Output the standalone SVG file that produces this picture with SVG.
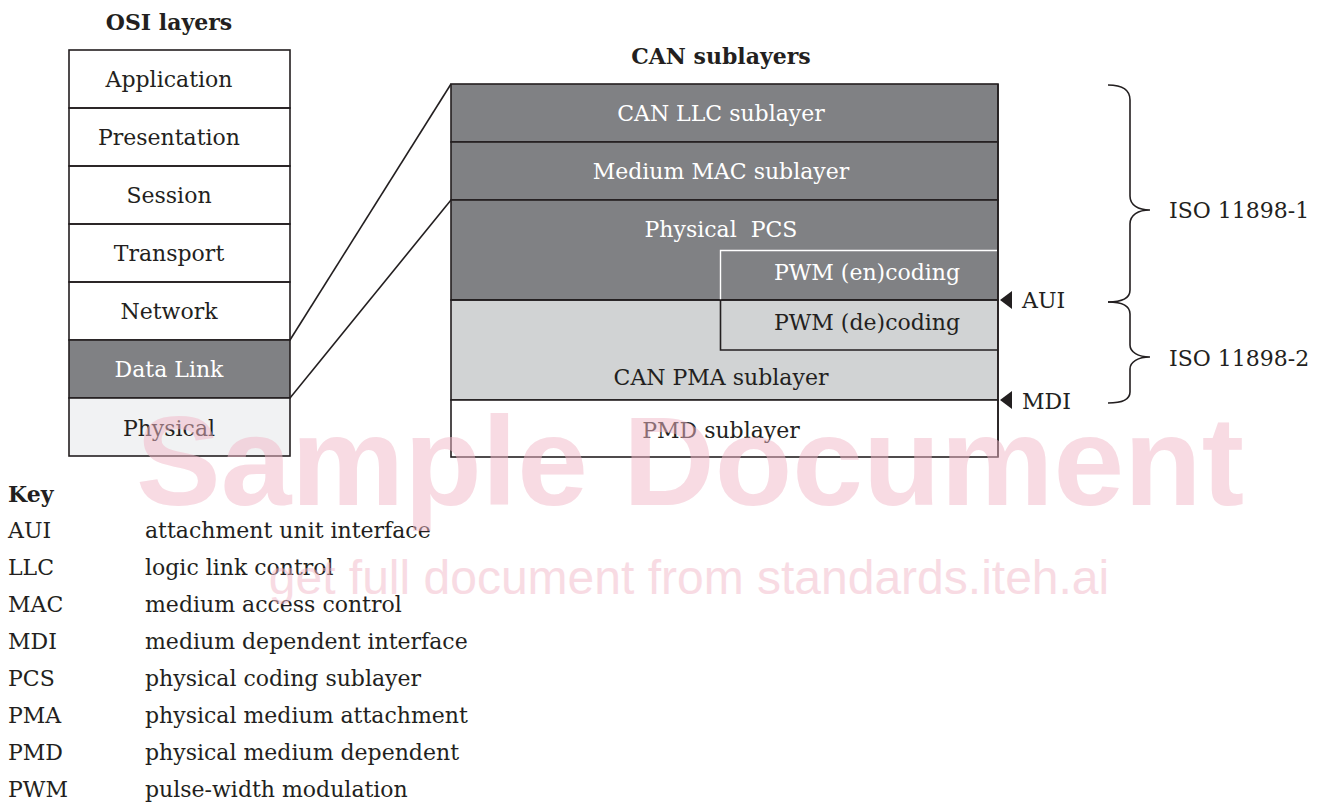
<svg xmlns="http://www.w3.org/2000/svg" width="1321" height="802" viewBox="0 0 1321 802">
<style>
.t{font-family:"DejaVu Serif","Liberation Serif",serif;font-size:22px;fill:#231f20}
.w{fill:#ffffff}
.b{font-weight:bold}
.m{text-anchor:middle}
.ln{stroke:#231f20;stroke-width:1.6;fill:none}
.wm{font-family:"Liberation Sans",Arial,sans-serif;fill:#f2b8c8;opacity:0.5}
</style>
<rect width="1321" height="802" fill="#ffffff"/>

<g id="osi">
<text class="t b m" x="169" y="30">OSI layers</text>
<g id="osi-application"><rect x="69" y="50" width="221" height="58" fill="#fff" class="ln"/><text class="t m" x="169" y="87">Application</text></g>
<g id="osi-presentation"><rect x="69" y="108" width="221" height="58" fill="#fff" class="ln"/><text class="t m" x="169" y="145">Presentation</text></g>
<g id="osi-session"><rect x="69" y="166" width="221" height="58" fill="#fff" class="ln"/><text class="t m" x="169" y="203">Session</text></g>
<g id="osi-transport"><rect x="69" y="224" width="221" height="58" fill="#fff" class="ln"/><text class="t m" x="169" y="261">Transport</text></g>
<g id="osi-network"><rect x="69" y="282" width="221" height="58" fill="#fff" class="ln"/><text class="t m" x="169" y="319">Network</text></g>
<g id="osi-datalink"><rect x="69" y="340" width="221" height="58" class="ln" style="fill:#808184"/><text class="t w m" x="169" y="377">Data Link</text></g>
<g id="osi-physical"><rect x="69" y="398" width="221" height="58" class="ln" style="fill:#f1f2f3"/><text class="t m" x="169" y="436">Physical</text></g>
</g>

<g id="connectors">
<line class="ln" x1="290" y1="340" x2="451" y2="84"/>
<line class="ln" x1="290" y1="398" x2="451" y2="200"/>
</g>

<g id="can">
<text class="t b m" x="721" y="64">CAN sublayers</text>
<g id="can-llc"><rect x="451" y="84" width="547" height="58" class="ln" style="fill:#808184"/><text class="t w m" x="721" y="121">CAN LLC sublayer</text></g>
<g id="can-mac"><rect x="451" y="142" width="547" height="58" class="ln" style="fill:#808184"/><text class="t w m" x="721" y="179">Medium MAC sublayer</text></g>
<g id="can-pcs"><rect x="451" y="200" width="547" height="100" class="ln" style="fill:#808184"/><text class="t w m" x="721" y="237" xml:space="preserve">Physical  PCS</text></g>
<g id="can-pma"><rect x="451" y="300" width="547" height="100" class="ln" style="fill:#d1d3d4"/><text class="t m" x="721" y="385">CAN PMA sublayer</text></g>
<g id="can-pmd"><rect x="451" y="400" width="547" height="57" class="ln" style="fill:#ffffff"/><text class="t m" x="721" y="438">PMD sublayer</text></g>
<g id="pwm-en"><path d="M720.5,300 V250.5 H997" stroke="#ffffff" stroke-width="1.4" fill="none"/><text class="t w m" x="867" y="280">PWM (en)coding</text></g>
<g id="pwm-de"><path d="M720.5,300 V350 H998" class="ln"/><text class="t m" x="867" y="330">PWM (de)coding</text></g>
<line class="ln" x1="451" y1="300" x2="998" y2="300"/>
<line class="ln" x1="998" y1="84" x2="998" y2="457"/>
</g>

<g id="interfaces">
<g id="aui"><polygon points="1000,300 1012,291 1012,309" fill="#231f20"/><text class="t" x="1022" y="308">AUI</text></g>
<g id="mdi"><polygon points="1000,400 1012,391 1012,409" fill="#231f20"/><text class="t" x="1022" y="409">MDI</text></g>
</g>

<g id="braces">
<g id="iso1"><path class="ln" d="M1108,85 C1122,85 1130,90 1130,100 L1130,196 C1130,205 1138,210 1150,210 C1138,210 1130,215 1130,224 L1130,290 C1130,298 1122,302 1108,302"/><text class="t" x="1169" y="218">ISO 11898-1</text></g>
<g id="iso2"><path class="ln" d="M1108,302 C1122,302 1130,306 1130,314 L1130,345 C1130,352 1138,357 1150,357 C1138,357 1130,362 1130,369 L1130,392 C1130,399 1122,403 1108,403"/><text class="t" x="1169" y="366">ISO 11898-2</text></g>
</g>

<g id="key">
<text class="t b" x="8" y="502">Key</text>
<text class="t" x="8" y="538">AUI</text><text class="t" x="145" y="538">attachment unit interface</text>
<text class="t" x="8" y="575">LLC</text><text class="t" x="145" y="575">logic link control</text>
<text class="t" x="8" y="612">MAC</text><text class="t" x="145" y="612">medium access control</text>
<text class="t" x="8" y="649">MDI</text><text class="t" x="145" y="649">medium dependent interface</text>
<text class="t" x="8" y="686">PCS</text><text class="t" x="145" y="686">physical coding sublayer</text>
<text class="t" x="8" y="723">PMA</text><text class="t" x="145" y="723">physical medium attachment</text>
<text class="t" x="8" y="760">PMD</text><text class="t" x="145" y="760">physical medium dependent</text>
<text class="t" x="8" y="797">PWM</text><text class="t" x="145" y="797">pulse-width modulation</text>
</g>

<g id="watermark">
<text class="wm" x="690" y="505" text-anchor="middle" font-size="127" font-weight="bold">Sample Document</text>
<text class="wm" x="689" y="594" text-anchor="middle" font-size="48">get full document from standards.iteh.ai</text>
</g>
</svg>
